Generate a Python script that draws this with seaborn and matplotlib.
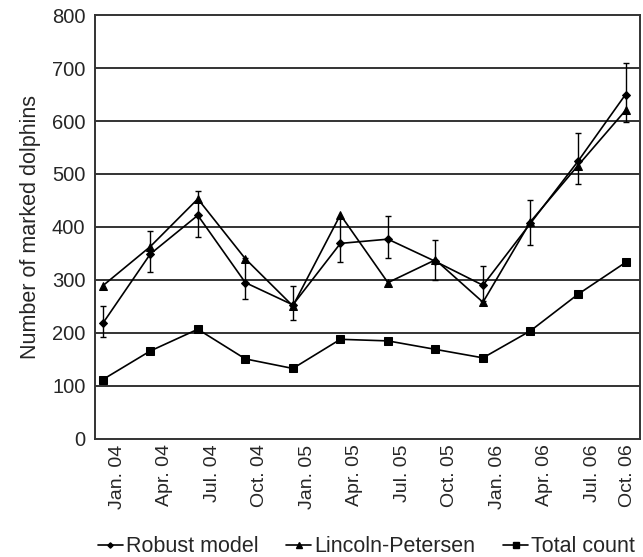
import numpy as np
import pandas as pd
import matplotlib
matplotlib.use("Agg")
import matplotlib.pyplot as plt
import matplotlib.transforms as mtransforms
import seaborn as sns

# =====================
# data
# =====================
quarters = ["Jan. 04", "Apr. 04", "Jul. 04", "Oct. 04", "Jan. 05", "Apr. 05",
            "Jul. 05", "Oct. 05", "Jan. 06", "Apr. 06", "Jul. 06", "Oct. 06"]

robust = [218, 349, 422, 295, 253, 369, 377, 335, 290, 407, 524, 650]
robust_low = [192, 315, 382, 264, 225, 333, 341, 300, 260, 366, 481, 599]
robust_high = [250, 392, 468, 341, 289, 417, 420, 375, 327, 451, 577, 709]

lincoln = [289, 363, 453, 340, 251, 423, 295, 338, 258, 410, 516, 620]

total = [112, 166, 207, 151, 133, 188, 185, 169, 153, 204, 273, 333]

series_names = ["Robust model", "Lincoln-Petersen", "Total count"]

# =====================
# long table for seaborn
# =====================
idx = np.arange(len(quarters))
df = pd.concat([
    pd.DataFrame({"x": idx, "value": robust, "series": series_names[0]}),
    pd.DataFrame({"x": idx, "value": lincoln, "series": series_names[1]}),
    pd.DataFrame({"x": idx, "value": total, "series": series_names[2]}),
], ignore_index=True)

sns.set_style("white")
plt.rcParams["font.family"] = ["Liberation Sans", "DejaVu Sans"]

fig = plt.figure(figsize=(6.43, 5.57), dpi=100)
ax = fig.add_axes([0.148, 0.212, 0.847, 0.761])

# horizontal grid
for v in range(100, 800, 100):
    ax.axhline(v, color="#333333", lw=1.4, zorder=0)

markers = {series_names[0]: "D", series_names[1]: "^", series_names[2]: "s"}
sizes = {series_names[0]: 4.5, series_names[1]: 6.0, series_names[2]: 5.5}

sns.lineplot(data=df, x="x", y="value", hue="series", style="series",
             palette=["black"] * 3, markers=markers, dashes=False,
             linewidth=1.2, markersize=6, markeredgecolor="black",
             legend=False, ax=ax, zorder=3)

# marker sizes per series
for line, name in zip(ax.get_lines()[-3:], series_names):
    line.set_markersize(sizes[name])

# asymmetric error bars of the robust model
yerr = [np.array(robust) - np.array(robust_low),
        np.array(robust_high) - np.array(robust)]
ax.errorbar(idx, robust, yerr=yerr, fmt="none", ecolor="black",
            elinewidth=1.0, capsize=2.3, capthick=1.0, zorder=2)

ax.set_xlim(-0.16, 11.19)
ax.set_ylim(0, 800)
ax.set_yticks(range(0, 801, 100))
ax.set_xticks(idx + 0.3)
ax.set_xticklabels(quarters, rotation=90, fontsize=14)
ax.set_xticks(idx - 0.15, minor=True)
ax.tick_params(axis="x", which="major", length=0, pad=4)
ax.tick_params(axis="x", which="minor", length=3.5, width=1, color="#333333",
               direction="out")
ax.tick_params(axis="y", length=6, width=1, color="#333333", direction="out",
               labelsize=14.5, pad=1)
ax.set_xlabel("")
ax.set_ylabel("Number of marked dolphins", fontsize=15.5, labelpad=8)

# last label sits on the figure edge, pull it in a little
last = ax.get_xticklabels()[-1]
shift = mtransforms.ScaledTranslation(-12 / 100, 0, fig.dpi_scale_trans)
last.set_transform(last.get_transform() + shift)

for sp in ax.spines.values():
    sp.set_color("#333333")
    sp.set_linewidth(1.4)

# legend at the bottom
handles = [plt.Line2D([], [], color="black", lw=1.2, marker=markers[n],
                      markersize=sizes[n] - 1.8) for n in series_names]
fig.legend(handles, series_names, loc="lower center", ncol=3, frameon=False,
           fontsize=15.5, handlelength=1.15, handletextpad=0.15,
           columnspacing=1.3, bbox_to_anchor=(0.57, -0.035))

fig.savefig("out.png", dpi=100)
